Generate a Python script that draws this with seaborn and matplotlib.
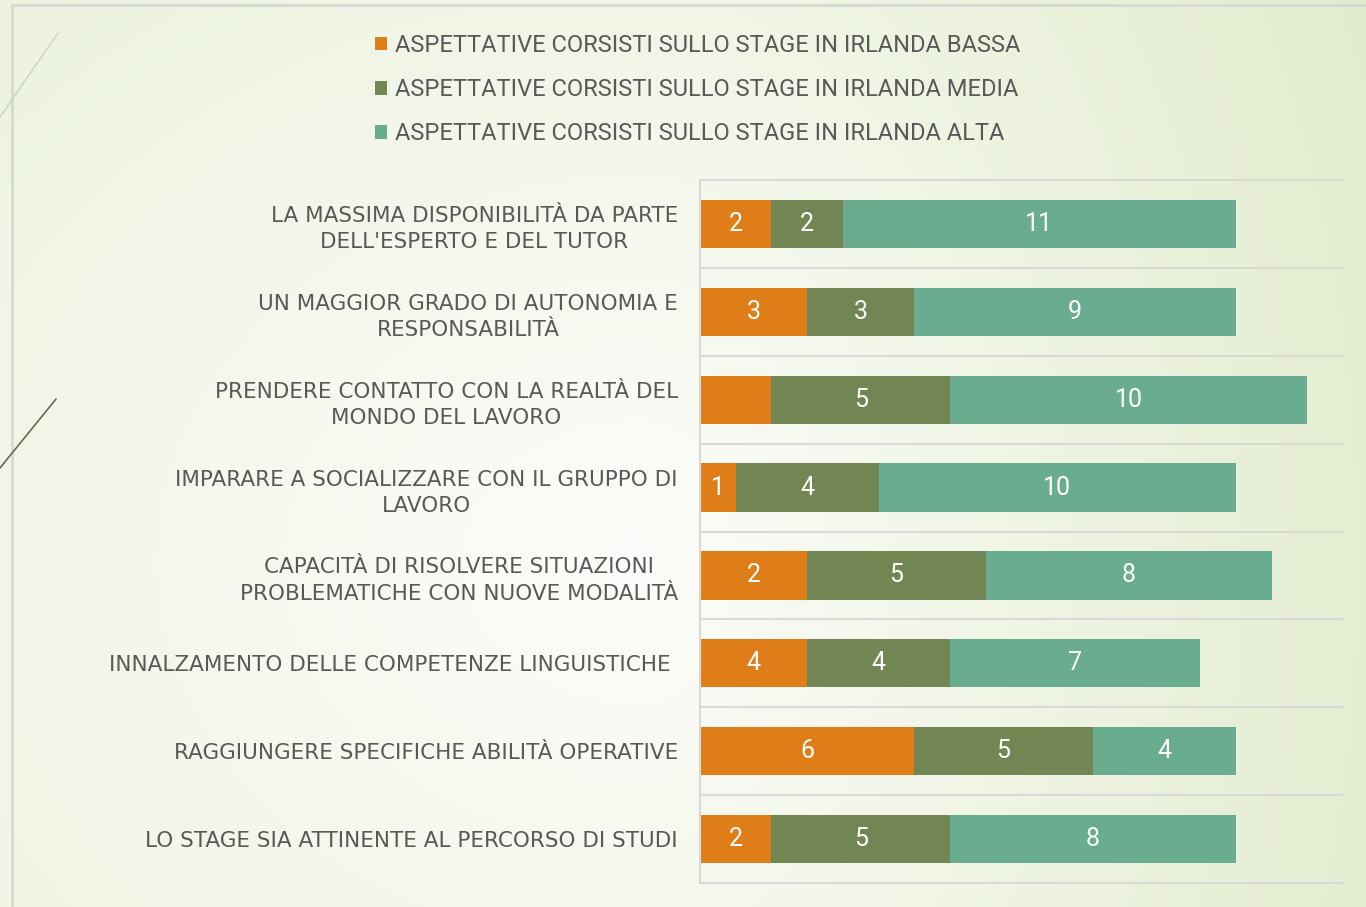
import numpy as np
import pandas as pd
import matplotlib
matplotlib.use("Agg")
import matplotlib.pyplot as plt
from matplotlib.lines import Line2D
import seaborn as sns

sns.set_theme(style="white")
plt.rcParams["font.family"] = ["DejaVu Sans"]

# dati
categorie = [
    "LA MASSIMA DISPONIBILITÀ DA PARTE\nDELL'ESPERTO E DEL TUTOR",
    "UN MAGGIOR GRADO DI AUTONOMIA E\nRESPONSABILITÀ",
    "PRENDERE CONTATTO CON LA REALTÀ DEL\nMONDO DEL LAVORO",
    "IMPARARE A SOCIALIZZARE CON IL GRUPPO DI\nLAVORO",
    "CAPACITÀ DI RISOLVERE SITUAZIONI\nPROBLEMATICHE CON NUOVE MODALITÀ",
    "INNALZAMENTO DELLE COMPETENZE LINGUISTICHE ",
    "RAGGIUNGERE SPECIFICHE ABILITÀ OPERATIVE",
    "LO STAGE SIA ATTINENTE AL PERCORSO DI STUDI",
]
serie = [
    "ASPETTATIVE CORSISTI SULLO STAGE IN IRLANDA BASSA",
    "ASPETTATIVE CORSISTI SULLO STAGE IN IRLANDA MEDIA",
    "ASPETTATIVE CORSISTI SULLO STAGE IN IRLANDA ALTA",
]
bassa = [2, 3, 2, 1, 3, 3, 6, 2]
media = [2, 3, 5, 4, 5, 4, 5, 5]
alta = [11, 9, 10, 10, 8, 7, 4, 8]
# etichette come compaiono nella slide
etich_bassa = ["2", "3", "", "1", "2", "4", "6", "2"]
etich_media = ["2", "3", "5", "4", "5", "4", "5", "5"]
etich_alta = ["11", "9", "10", "10", "8", "7", "4", "8"]
colori = ["#DF7E18", "#718653", "#6AAC90"]

GRIGIO = "#595959"
LINEA = "#D9D9D9"
STRETTO = ["Roboto", "DejaVu Sans"]

W, H = 1366, 907
fig = plt.figure(figsize=(W / 100, H / 100), dpi=100)

# sfondo sfumato (bianco al centro, verde chiaro ai bordi)
bg = fig.add_axes([0, 0, 1, 1], zorder=-10)
yy, xx = np.mgrid[0:H:4, 0:W:4]
cx, cy = 640, 560
rx = np.where(xx < cx, 1700, 880)
t = np.clip(np.sqrt(((xx - cx) / rx) ** 2 + ((yy - cy) / 1350) ** 2), 0, 1)
c0 = np.array([252, 253, 250]) / 255
c1 = np.array([224, 234, 201]) / 255
img = c0[None, None, :] * (1 - t[..., None]) + c1[None, None, :] * t[..., None]
bg.imshow(img, aspect="auto", extent=[0, W, H, 0], interpolation="bilinear")
bg.set_xlim(0, W); bg.set_ylim(H, 0); bg.axis("off")

# cornice e linee decorative della slide
def px(x, y):
    return x / W, 1 - y / H
for (x0, y0), (x1, y1), col, lw in [((12, 5), (12, H), "#D6D9D2", 2),
                                    ((12, 5), (W, 5), "#D6D9D2", 2),
                                    ((0, 117), (58, 33), "#CDD1C2", 1),
                                    ((0, 468), (56, 399), "#6E6550", 1.2)]:
    a, b = px(x0, y0); c, d = px(x1, y1)
    fig.add_artist(Line2D([a, c], [b, d], color=col, lw=lw))

ax = fig.add_axes([700 / W, 1 - 883 / H, 643 / W, 703 / H])
ax.set_facecolor("none")

df = pd.DataFrame({"categoria": categorie, "bassa": bassa, "media": media, "alta": alta})
df["fine_bassa"] = df["bassa"]
df["fine_media"] = df["bassa"] + df["media"]
df["fine_alta"] = df["fine_media"] + df["alta"]

# barre impilate: si disegnano i totali cumulati dal più lungo al più corto
for col, colore, nome in [("fine_alta", colori[2], serie[2]),
                          ("fine_media", colori[1], serie[1]),
                          ("fine_bassa", colori[0], serie[0])]:
    sns.barplot(data=df, y="categoria", x=col, orient="h", color=colore, saturation=1,
                width=0.55, errorbar=None, label=nome, ax=ax, linewidth=0)

# etichette dei valori
for i in range(len(categorie)):
    inizi = [0, df["fine_bassa"][i], df["fine_media"][i]]
    valori = [bassa[i], media[i], alta[i]]
    testi = [etich_bassa[i], etich_media[i], etich_alta[i]]
    for s, v, txt in zip(inizi, valori, testi):
        if txt:
            ax.text(s + v / 2, i, txt, ha="center", va="center", color="white",
                    fontsize=18, family=STRETTO)

ax.set_xlim(0, 18)
ax.set_ylim(len(categorie) - 0.5, -0.5)
ax.set_xlabel(""); ax.set_ylabel("")
ax.set_xticks([])
ax.tick_params(axis="y", length=0, pad=16)
for lab in ax.get_yticklabels():
    lab.set_fontsize(15.5)
    lab.set_color(GRIGIO)
    lab.set_multialignment("center")
    lab.set_linespacing(1.38)
ax.set_yticks(np.arange(0.5, len(categorie) - 0.5, 1), minor=True)
ax.grid(axis="y", which="minor", color=LINEA, lw=1.5)
ax.tick_params(axis="y", which="minor", length=0)
for lato in ["left", "top", "bottom"]:
    ax.spines[lato].set_visible(True)
    ax.spines[lato].set_color(LINEA)
    ax.spines[lato].set_linewidth(1.5)
ax.spines["right"].set_visible(False)

handles, labels = ax.get_legend_handles_labels()
if ax.get_legend() is not None:
    ax.get_legend().remove()
fig.legend(handles[::-1], labels[::-1], loc="upper left",
           bbox_to_anchor=(375 / W, 1 - 34 / H), frameon=False,
           borderpad=0, borderaxespad=0, handlelength=0.5, handleheight=0.5,
           handletextpad=0.33, labelspacing=0.9,
           prop={"family": STRETTO, "size": 17}, labelcolor=GRIGIO)

fig.savefig("out.png", dpi=100)
